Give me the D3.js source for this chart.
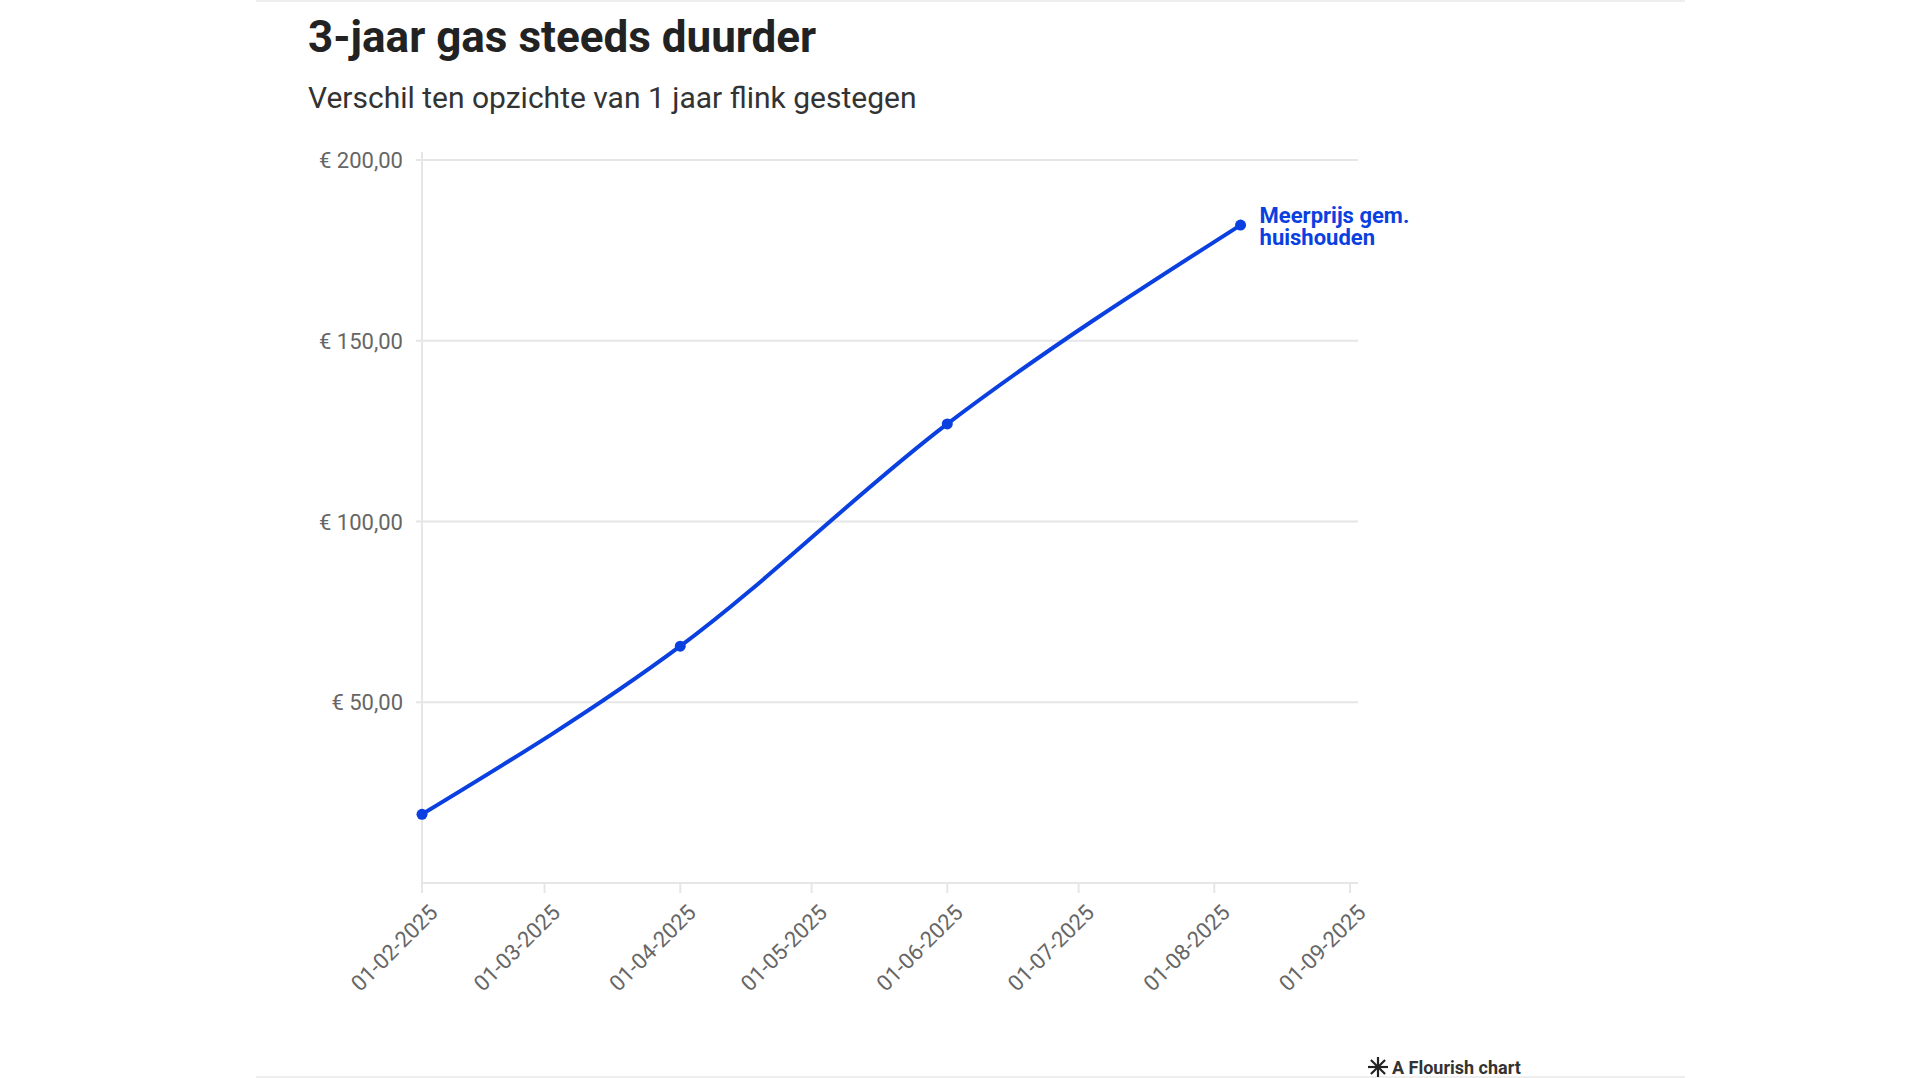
<!DOCTYPE html>
<html><head><meta charset="utf-8">
<script src="https://cdn.jsdelivr.net/npm/d3@7"></script>
<style>body{margin:0;background:#fff}svg{display:block}</style>
</head><body>
<svg width="1920" height="1078"></svg>
<script>
const dates = ["2025-02-01", "2025-04-01", "2025-06-01", "2025-08-07"];
const values = [19, 65.5, 127, 182];
const yTicks = [50, 100, 150, 200];
const xTicks = ["2025-02-01","2025-03-01","2025-04-01","2025-05-01","2025-06-01","2025-07-01","2025-08-01","2025-09-01"];
const seriesName = ["Meerprijs gem.", "huishouden"];

const blue = "#0b40e0";
const font = "Roboto, sans-serif";
const svg = d3.select("svg");
const parse = d3.timeParse("%Y-%m-%d");
const fmtDate = d3.timeFormat("%d-%m-%Y");

svg.append("line").attr("x1", 256).attr("x2", 1685).attr("y1", 1).attr("y2", 1).style("stroke", "#eee").style("stroke-width", 2);
svg.append("line").attr("x1", 256).attr("x2", 1685).attr("y1", 1077).attr("y2", 1077).style("stroke", "#eee").style("stroke-width", 2);

svg.append("text").attr("x", 308).attr("y", 52).text("3-jaar gas steeds duurder")
  .style("font-family", font).style("font-weight", 700).style("font-size", "44px").style("fill", "#222");
svg.append("text").attr("x", 308).attr("y", 108).text("Verschil ten opzichte van 1 jaar flink gestegen")
  .style("font-family", font).style("font-size", "30px").style("fill", "#333");

const x = d3.scaleTime().domain([parse(xTicks[0]), parse(xTicks[7])]).range([422, 1350]);
const y = d3.scaleLinear().domain([0, 200]).range([883, 160]);

const g = svg.append("g");
g.selectAll("line.grid").data(yTicks).enter().append("line").attr("class", "grid")
  .attr("x1", 416).attr("x2", 1358).attr("y1", d => y(d)).attr("y2", d => y(d))
  .style("stroke", "#e6e6e6").style("stroke-width", 2);
g.append("line").attr("x1", 422).attr("x2", 422).attr("y1", 152).attr("y2", 883).style("stroke", "#e6e6e6").style("stroke-width", 2);
g.append("line").attr("x1", 422).attr("x2", 1358).attr("y1", 883).attr("y2", 883).style("stroke", "#e6e6e6").style("stroke-width", 2);

g.selectAll("text.yl").data(yTicks).enter().append("text").attr("class", "yl")
  .attr("x", 403).attr("y", d => y(d) + 8).attr("text-anchor", "end")
  .text(d => "€ " + d3.format(".2f")(d).replace(".", ","))
  .style("font-family", font).style("font-size", "22px").style("fill", "#666");

const xt = g.selectAll("g.xt").data(xTicks.map(parse)).enter().append("g").attr("class", "xt")
  .attr("transform", d => `translate(${x(d)},883)`);
xt.append("line").attr("y2", 10).style("stroke", "#e6e6e6").style("stroke-width", 2);
xt.append("text").attr("transform", "translate(6,20) rotate(-45)").attr("text-anchor", "end").attr("dy", "0.7em")
  .text(d => fmtDate(d))
  .style("font-family", font).style("font-size", "22px").style("fill", "#666");

const pts = dates.map((d, i) => [x(parse(d)), y(values[i])]);
g.append("path").attr("d", d3.line().curve(d3.curveMonotoneX)(pts))
  .style("fill", "none").style("stroke", blue).style("stroke-width", 4);
g.selectAll("circle").data(pts).enter().append("circle")
  .attr("cx", d => d[0]).attr("cy", d => d[1]).attr("r", 5.5).style("fill", blue);

const last = pts[pts.length - 1];
g.append("text").attr("x", last[0] + 19).attr("y", last[1] - 2)
  .selectAll("tspan").data(seriesName).enter().append("tspan")
  .attr("x", last[0] + 19).attr("dy", (d, i) => i ? 22 : 0).text(d => d)
  .style("font-family", font).style("font-weight", 700).style("font-size", "22px").style("fill", blue);

const foot = svg.append("g").attr("transform", "translate(1378,1067)");
d3.range(8).forEach(i => foot.append("line").attr("x1", 0).attr("y1", 0)
  .attr("x2", 10 * Math.cos(i * Math.PI / 4)).attr("y2", 10 * Math.sin(i * Math.PI / 4))
  .style("stroke", "#222").style("stroke-width", 2.2));
foot.append("text").attr("x", 14).attr("y", 7).text("A Flourish chart")
  .style("font-family", font).style("font-weight", 700).style("font-size", "18px").style("fill", "#333");
</script>
</body></html>
